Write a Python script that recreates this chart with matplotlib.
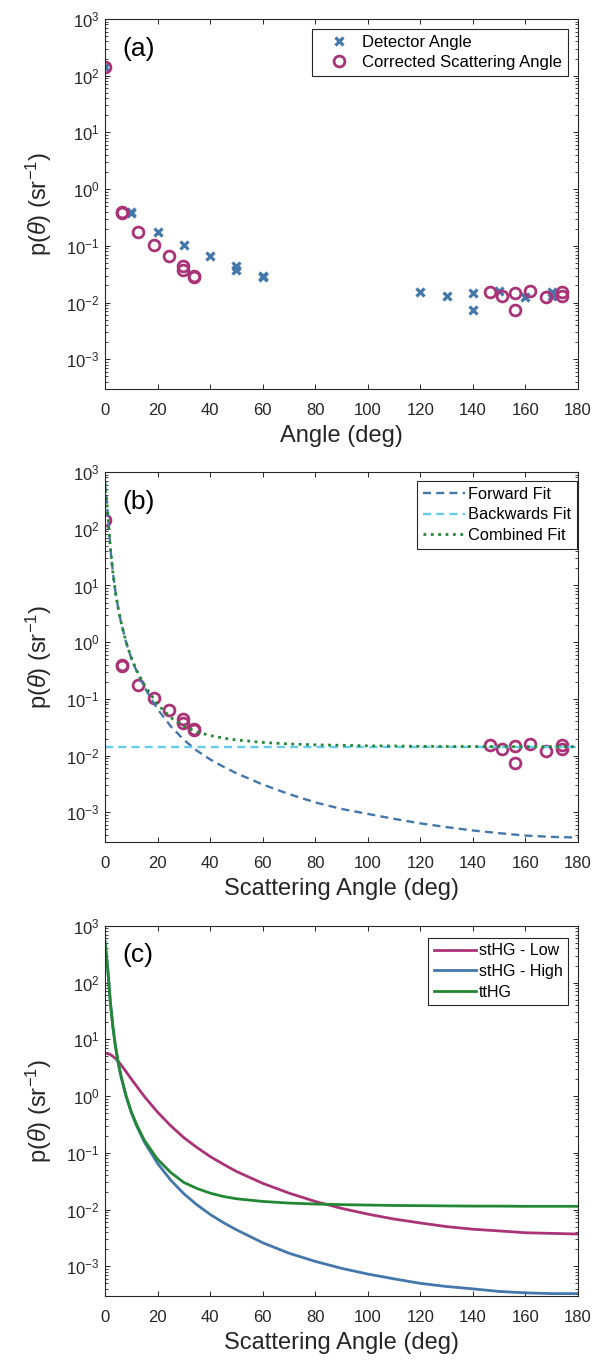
import matplotlib
matplotlib.use("Agg")
import matplotlib.pyplot as plt
from matplotlib.ticker import FixedLocator, LogLocator, NullFormatter, NullLocator, MultipleLocator

plt.rcParams['font.family'] = ['Liberation Sans', 'DejaVu Sans']
plt.rcParams['mathtext.fontset'] = 'custom'
plt.rcParams['mathtext.rm'] = 'Liberation Sans'
plt.rcParams['mathtext.it'] = 'Liberation Sans:italic'
plt.rcParams['axes.linewidth'] = 0.8

# measured points (detector angle and corrected scattering angle share values)
detector_deg = [0, 10, 10, 20, 30, 40, 50, 50, 60, 60,
                120, 130, 140, 140, 150, 160, 170, 170]
corrected_deg = [0, 6.3, 6.3, 12.7, 18.8, 24.4, 29.8, 29.8, 34, 34,
                 146.5, 150.9, 156, 156, 161.7, 167.8, 174, 174]
p_measured = [140, 0.40, 0.38, 0.175, 0.102, 0.065, 0.045, 0.037, 0.030, 0.028,
              0.0153, 0.0133, 0.0150, 0.0073, 0.0158, 0.0123, 0.0155, 0.0133]

# fitted / model curves
theta_fit = [0, 1, 2, 3, 4, 5, 6, 8, 10, 12, 15, 20, 25, 30, 35, 40, 45, 50,
             60, 70, 80, 90, 100, 110, 120, 130, 140, 150, 160, 170, 180]
forward_fit = [650, 195, 48, 16.8, 7.5, 4.0, 2.35, 1.0, 0.52, 0.31, 0.16, 0.066,
               0.033, 0.019, 0.0122, 0.0086, 0.0064, 0.0049, 0.0031, 0.0021,
               0.00150, 0.00115, 0.00094, 0.00077, 0.00064, 0.00055, 0.00048,
               0.00043, 0.00039, 0.00037, 0.00036]
theta_back = [0, 180]
backward_fit = [0.014, 0.014]
combined_fit = [650, 195, 48, 16.8, 7.5, 4.0, 2.36, 1.01, 0.53, 0.32, 0.174, 0.080,
                0.047, 0.033, 0.0262, 0.0226, 0.0204, 0.0189, 0.0171, 0.0161,
                0.0155, 0.0152, 0.0149, 0.0148, 0.0146, 0.0145, 0.0145, 0.0144,
                0.0144, 0.0144, 0.0144]

sthg_low = [5.7, 5.6, 5.4, 5.0, 4.6, 4.1, 3.6, 2.7, 2.0, 1.5, 0.98, 0.52, 0.30,
            0.185, 0.124, 0.086, 0.063, 0.047, 0.029, 0.0195, 0.0139, 0.0105,
            0.0083, 0.0068, 0.0058, 0.0050, 0.0045, 0.0042, 0.0039, 0.0038, 0.0037]
sthg_high = [540, 188, 47, 16.5, 7.4, 3.9, 2.3, 0.99, 0.51, 0.30, 0.154, 0.065,
             0.033, 0.019, 0.0121, 0.0082, 0.0059, 0.0044, 0.0026, 0.0017,
             0.00122, 0.00092, 0.00073, 0.00060, 0.00050, 0.00044, 0.00040,
             0.00036, 0.00034, 0.00033, 0.00033]
tthg = [510, 180, 46, 16.3, 7.4, 3.95, 2.35, 1.02, 0.53, 0.315, 0.165, 0.077,
        0.045, 0.030, 0.0235, 0.0195, 0.0170, 0.0155, 0.0139, 0.0130, 0.0125,
        0.0122, 0.0120, 0.0118, 0.0117, 0.0116, 0.0115, 0.0115, 0.0114, 0.0114,
        0.0114]

decades = [1e-3, 1e-2, 1e-1, 1e0, 1e1, 1e2, 1e3]

BLUE = '#4477AA'
CYAN = '#66CCEE'
GREEN = '#228833'
PURPLE = '#AA3377'
AXCOL = '#262626'


def style_axes(ax, xlabel, letter):
    ax.set_yscale('log')
    ax.set_xlim(0, 180)
    ax.set_ylim(3e-4, 1e3)
    ax.xaxis.set_major_locator(MultipleLocator(20))
    ax.xaxis.set_minor_locator(NullLocator())
    ax.yaxis.set_major_locator(FixedLocator(decades))
    ax.yaxis.set_minor_locator(LogLocator(base=10, subs=range(2, 10), numticks=20))
    ax.yaxis.set_minor_formatter(NullFormatter())
    ax.tick_params(which='both', direction='in', top=True, right=True,
                   color=AXCOL, labelcolor=AXCOL, labelsize=12)
    ax.tick_params(which='major', length=3.8, width=0.7)
    ax.tick_params(which='minor', length=2.2, width=0.6)
    ax.tick_params(axis='x', pad=10)
    ax.tick_params(axis='y', pad=4)
    for s in ax.spines.values():
        s.set_color(AXCOL)
    ax.set_xlabel(xlabel, fontsize=17, color=AXCOL, labelpad=5)
    ax.set_ylabel(r'p($\theta$) (sr$^{-1}$)', fontsize=17, color=AXCOL)
    ax.yaxis.set_label_coords(-0.108, 0.5)
    ax.text(0.036, 0.92, letter, transform=ax.transAxes, fontsize=19,
            va='center', ha='left', color='black')


fig = plt.figure(figsize=(5.95, 13.61), dpi=100)
ax_a = fig.add_axes([0.1765, 0.7142, 0.795, 0.2719])
ax_b = fig.add_axes([0.1765, 0.3813, 0.795, 0.2719])
ax_c = fig.add_axes([0.1765, 0.0478, 0.795, 0.2719])

# (a) measured points
ax_a.plot(detector_deg, p_measured, 'x', color=BLUE, ms=5.5, mew=2.3,
          label='Detector Angle')
ax_a.plot(corrected_deg, p_measured, 'o', color=PURPLE, mfc='none', ms=7.8,
          mew=2.0, label='Corrected Scattering Angle')
style_axes(ax_a, 'Angle (deg)', '(a)')
leg = ax_a.legend(loc='upper right', bbox_to_anchor=(0.979, 0.973),
                  borderaxespad=0, fontsize=12, fancybox=False,
                  edgecolor=AXCOL, framealpha=1, handlelength=2.5,
                  handletextpad=0.15, labelspacing=0.3, borderpad=0.35)
leg.get_frame().set_linewidth(0.8)

# (b) fits
ax_b.plot(corrected_deg, p_measured, 'o', color=PURPLE, mfc='none', ms=7.8,
          mew=2.0)
ax_b.plot(theta_fit, forward_fit, color=BLUE, lw=1.7, dashes=(3.4, 2.2),
          label='Forward Fit')
ax_b.plot(theta_back, backward_fit, color=CYAN, lw=1.7, dashes=(3.4, 2.2),
          label='Backwards Fit')
ax_b.plot(theta_fit, combined_fit, color=GREEN, lw=2.0, ls=':',
          label='Combined Fit')
style_axes(ax_b, 'Scattering Angle (deg)', '(b)')
leg = ax_b.legend(loc='upper right', bbox_to_anchor=(0.997, 0.976),
                  borderaxespad=0, fontsize=11.8, fancybox=False,
                  edgecolor=AXCOL, framealpha=1, handlelength=2.6,
                  handletextpad=0.15, labelspacing=0.35, borderpad=0.35)
leg.get_frame().set_linewidth(0.8)

# (c) model phase functions
ax_c.plot(theta_fit, sthg_low, color=PURPLE, lw=2.0, label='stHG - Low')
ax_c.plot(theta_fit, sthg_high, color=BLUE, lw=2.0, label='stHG - High')
ax_c.plot(theta_fit, tthg, color=GREEN, lw=2.0, label='ttHG')
style_axes(ax_c, 'Scattering Angle (deg)', '(c)')
leg = ax_c.legend(loc='upper right', bbox_to_anchor=(0.979, 0.968),
                  borderaxespad=0, fontsize=11.5, fancybox=False,
                  edgecolor=AXCOL, framealpha=1, handlelength=2.6,
                  handletextpad=0.2, labelspacing=0.35, borderpad=0.35)
leg.get_frame().set_linewidth(0.8)

fig.savefig('out.png', dpi=100)
